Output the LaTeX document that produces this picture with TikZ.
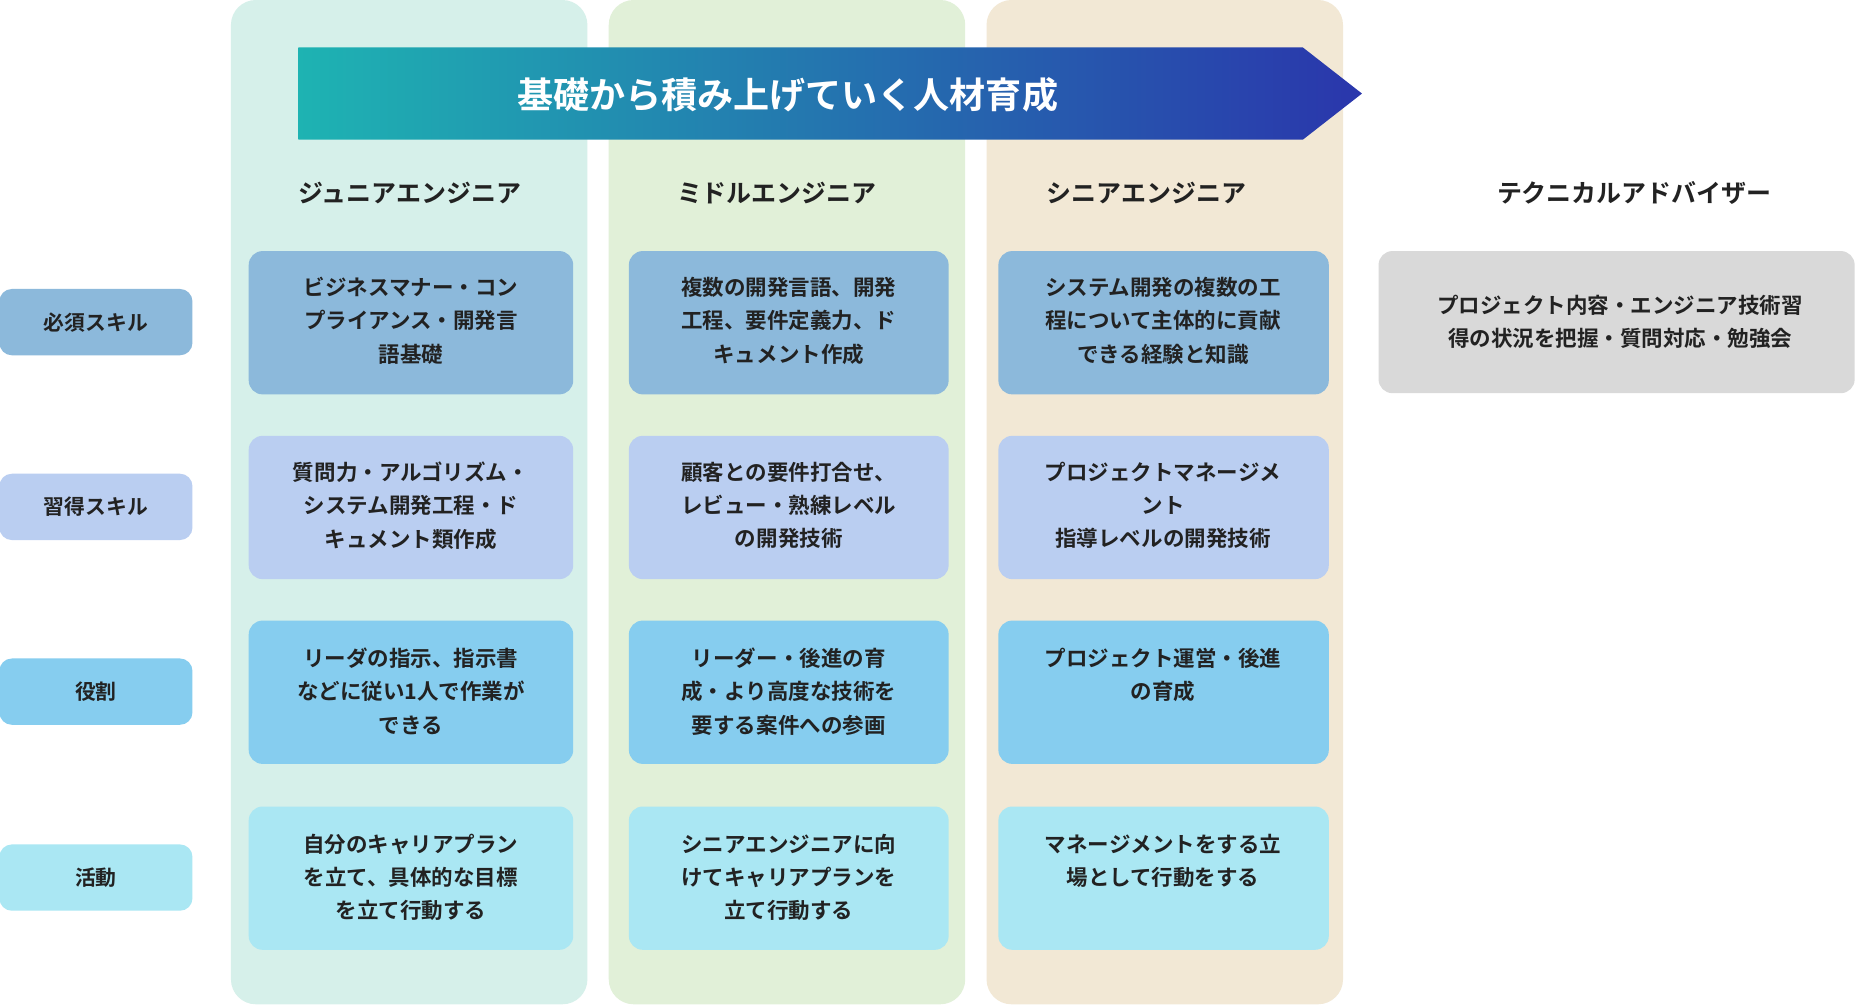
\documentclass[tikz,border=0pt]{standalone}
\usepackage{fontspec}
\setmainfont{Noto Sans CJK JP}[BoldFont={Noto Sans CJK JP Bold}]
\usetikzlibrary{positioning}
\definecolor{colA}{HTML}{D6F0EA}
\definecolor{colB}{HTML}{E1F0D8}
\definecolor{colC}{HTML}{F2E8D5}
\definecolor{rowA}{HTML}{8CB9DB}
\definecolor{rowB}{HTML}{BACEF1}
\definecolor{rowC}{HTML}{86CDEF}
\definecolor{rowD}{HTML}{AAE7F3}
\definecolor{advbox}{HTML}{D9D9D9}
\definecolor{arrowL}{HTML}{1EB3B2}
\definecolor{arrowR}{HTML}{2A36AC}
\definecolor{ink}{HTML}{222222}
\tikzset{
    lane/.style={rounded corners=18pt},
    rowlabel/.style={rounded corners=9pt, minimum width=4.89cm, minimum height=1.68cm, inner sep=0pt,
        font=\fontsize{15}{18}\selectfont\bfseries, text=ink},
    cell/.style={rounded corners=10pt, inner sep=0pt},
    celltext/.style={anchor=north, align=center, font=\fontsize{15.5}{24}\selectfont\bfseries, text=ink},
    head/.style={font=\fontsize{18}{22}\selectfont\bfseries, text=ink}
}
\begin{document}
\begin{tikzpicture}[x=0.03cm, y=-0.03cm]
    \useasboundingbox[fill=white] (0, 0) rectangle (1568, 848);

    % lanes
    \fill[colA, lane] (195, 0) rectangle (496, 848);
    \fill[colB, lane] (514, 0) rectangle (815, 848);
    \fill[colC, lane] (833, 0) rectangle (1134, 848);

    % arrow
    \shade[left color=arrowL, right color=arrowR] (252, 40) -- (1100, 40) -- (1150, 79) -- (1100, 118) -- (252, 118) -- cycle;
    \node[font=\fontsize{26}{30}\selectfont\bfseries, text=white] (title) at (665, 80) {基礎から積み上げていく人材育成};

    % headers
    \node[head] (hJr) at (346, 163) {ジュニアエンジニア};
    \node[head] (hMd) at (656, 163) {ミドルエンジニア};
    \node[head] (hSr) at (968, 163) {シニアエンジニア};
    \node[head] (hAd) at (1380, 163) {テクニカルアドバイザー};

    % row labels
    \node[rowlabel, fill=rowA] (lSkill) at (81, 272) {必須スキル};
    \node[rowlabel, fill=rowB] (lLearn) at (81, 428) {習得スキル};
    \node[rowlabel, fill=rowC] (lRole) at (81, 584) {役割};
    \node[rowlabel, fill=rowD] (lAct) at (81, 741) {活動};

    % cells
    \foreach \y/\c in {212/rowA, 368/rowB, 524/rowC, 681/rowD} {
        \fill[\c, cell] (210, \y) rectangle (484, \y+121);
        \fill[\c, cell] (531, \y) rectangle (801, \y+121);
        \fill[\c, cell] (843, \y) rectangle (1122, \y+121);
    }
    \fill[advbox, cell] (1164, 212) rectangle (1566, 332);

    \node[celltext] (jr1) at (347, 230) {ビジネスマナー・コン\\プライアンス・開発言\\語基礎};
    \node[celltext] (md1) at (666, 230) {複数の開発言語、開発\\工程、要件定義力、ド\\キュメント作成};
    \node[celltext] (sr1) at (982, 230) {システム開発の複数の工\\程について主体的に貢献\\できる経験と知識};
    \node[celltext, anchor=center] (ad1) at (1368, 272) {プロジェクト内容・エンジニア技術習\\得の状況を把握・質問対応・勉強会};

    \node[celltext] (jr2) at (347, 386) {質問力・アルゴリズム・\\システム開発工程・ド\\キュメント類作成};
    \node[celltext] (md2) at (666, 386) {顧客との要件打合せ、\\レビュー・熟練レベル\\の開発技術};
    \node[celltext] (sr2) at (982, 386) {プロジェクトマネージメ\\ント\\指導レベルの開発技術};

    \node[celltext] (jr3) at (347, 543) {リーダの指示、指示書\\などに従い1人で作業が\\できる};
    \node[celltext] (md3) at (666, 543) {リーダー・後進の育\\成・より高度な技術を\\要する案件への参画};
    \node[celltext] (sr3) at (982, 543) {プロジェクト運営・後進\\の育成};

    \node[celltext] (jr4) at (347, 700) {自分のキャリアプラン\\を立て、具体的な目標\\を立て行動する};
    \node[celltext] (md4) at (666, 700) {シニアエンジニアに向\\けてキャリアプランを\\立て行動する};
    \node[celltext] (sr4) at (982, 700) {マネージメントをする立\\場として行動をする};
\end{tikzpicture}
\end{document}
